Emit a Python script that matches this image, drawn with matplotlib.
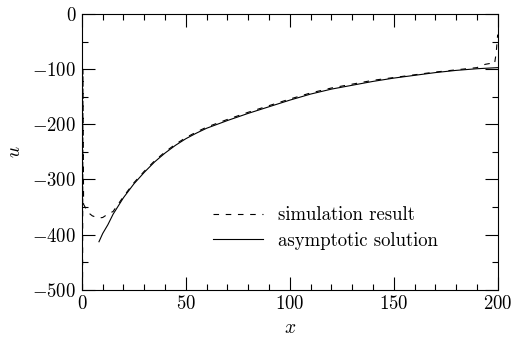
import numpy as np
import matplotlib.pyplot as plt

# =============================
# Data
# =============================
# simulation result (dashed)
sim_x = [0.3, 0.5, 0.8, 1.5, 3, 5, 8, 10, 12, 15, 20, 25, 30, 35, 40, 45, 50, 55,
         60, 70, 80, 90, 100, 110, 120, 130, 140, 150, 160, 170, 180, 190, 194,
         197, 198.5, 199.3, 200]
sim_u = [-500, -100, -345, -350, -360, -366, -370, -369, -364, -358, -331, -306,
         -285, -266, -250, -236, -224, -214, -205, -191, -178, -166, -154, -143,
         -134, -127, -120, -115, -110, -105, -101, -97, -91, -89, -90, -70, -37]

# asymptotic solution (solid)
asy_x = [8.2, 10, 12.5, 15, 20, 25, 30, 35, 40, 45, 50, 55, 60, 70, 80, 90, 100,
         110, 120, 130, 140, 150, 160, 170, 180, 190, 200]
asy_u = [-413, -398, -382, -363, -333, -308, -287, -268, -252, -238, -226, -216,
         -207, -193, -180, -168, -156, -145, -136, -129, -122, -116, -111, -106,
         -102, -99, -97]

# =============================
# Style
# =============================
plt.rcParams['font.family'] = 'serif'
plt.rcParams['font.serif'] = ['cmr10']
plt.rcParams['mathtext.fontset'] = 'cm'
plt.rcParams['axes.formatter.use_mathtext'] = True

fig = plt.figure(figsize=(5.12, 3.38), dpi=100)
ax = fig.add_axes([0.160, 0.143, 0.812, 0.815])

ax.plot(sim_x, sim_u, color='black', lw=0.8, linestyle=(0, (5, 6)),
        label='simulation result')
ax.plot(asy_x, asy_u, color='black', lw=0.8, label='asymptotic solution')

ax.set_xlim(0, 200)
ax.set_ylim(-500, 0)
ax.set_xticks(np.arange(0, 201, 50))
ax.set_xticks(np.arange(0, 201, 10), minor=True)
ax.set_yticks(np.arange(-500, 1, 100))
ax.set_yticks(np.arange(-500, 1, 50), minor=True)

ax.tick_params(which='both', direction='in', top=True, right=True,
               labelsize=13.5, width=0.8)
ax.tick_params(which='major', length=9.5, pad=4)
ax.tick_params(which='minor', length=4.3)
for s in ax.spines.values():
    s.set_linewidth(0.8)

ax.set_xlabel('$x$', fontsize=14, labelpad=4)
ax.set_ylabel('$u$', fontsize=14, labelpad=6)

ax.legend(loc='center left', bbox_to_anchor=(0.315, 0.223), frameon=False,
          fontsize=13.5, borderaxespad=0, borderpad=0, handlelength=2.67,
          handletextpad=0.8, labelspacing=0.4)

plt.savefig('out.png', dpi=100)
